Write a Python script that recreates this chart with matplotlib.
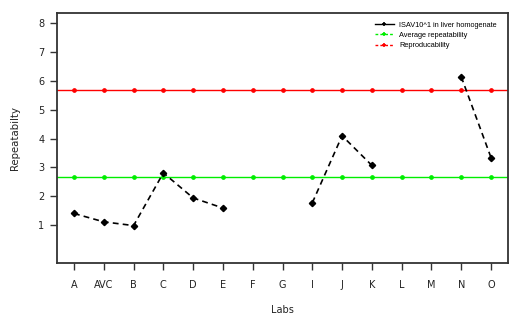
import numpy as np
import matplotlib
matplotlib.use("Agg")
import matplotlib.pyplot as plt
from matplotlib.lines import Line2D

labs = ["A", "AVC", "B", "C", "D", "E", "F", "G", "I", "J", "K", "L", "M", "N", "O"]
isav = [1.40, 1.11, 0.98, 2.81, 1.94, 1.59, np.nan, np.nan, 1.77, 4.10, 3.07, np.nan, np.nan, 6.15, 3.34]
avg_repeatability = 2.67
reproducibility = 5.70
yticks = [1, 2, 3, 4, 5, 6, 7, 8]

fig = plt.figure(figsize=(5.18, 3.26), dpi=100)
ax = fig.add_axes([0.1095, 0.1923, 0.8712, 0.7667])

x = np.arange(1, len(labs) + 1)
ax.axhline(reproducibility, color="#ff0000", lw=1.0, zorder=2)
ax.axhline(avg_repeatability, color="#00ee00", lw=1.0, zorder=2)
ax.plot(x, [reproducibility] * len(x), ls="none", marker="o", ms=2.4, color="#ff0000", zorder=3)
ax.plot(x, [avg_repeatability] * len(x), ls="none", marker="o", ms=2.4, color="#00ee00", zorder=3)
ax.plot(x, isav, ls=(0, (3.5, 2.5)), lw=1.2, color="black", marker="D", ms=3.2, zorder=4)

handles = [
    Line2D([], [], color="black", lw=1.0, marker="+", ms=3, mew=1.2),
    Line2D([], [], color="#00ee00", lw=1.0, ls=(0, (2, 1.5)), marker="+", ms=3, mew=1.2),
    Line2D([], [], color="#ff0000", lw=1.0, ls=(0, (2, 1.5)), marker="+", ms=3, mew=1.2),
]
leg = ax.legend(handles, ["ISAV10^1 in liver homogenate", "Average repeatability", "Reproducability"],
                loc="upper right", bbox_to_anchor=(0.985, 0.985), frameon=False,
                prop={"family": "Liberation Sans", "size": 5.3},
                handlelength=2.6, handletextpad=0.7, labelspacing=0.42, borderaxespad=0.2)

ax.set_xlim(0.42, 15.57)
ax.set_ylim(-0.33, 8.35)
ax.set_xticks(x)
ax.set_xticklabels(labs)
ax.set_yticks(yticks)
ax.tick_params(axis="both", direction="out", length=5, width=1.0, color="#333333",
               labelsize=7, labelcolor="#222222")
ax.tick_params(axis="x", pad=7)
ax.tick_params(axis="y", pad=4)
for s in ax.spines.values():
    s.set_color("#333333")
    s.set_linewidth(1.3)
ax.set_xlabel("Labs", fontsize=7, labelpad=11, color="#222222")
ax.set_ylabel("Repeatabilty", fontsize=7.3, labelpad=13, color="#222222")

fig.savefig("out.png", dpi=100)
